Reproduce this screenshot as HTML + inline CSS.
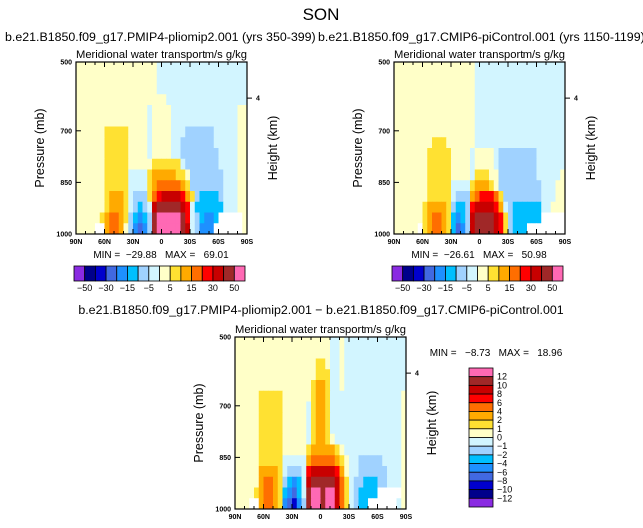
<!DOCTYPE html>
<html><head><meta charset="utf-8"><style>
html,body{margin:0;padding:0;background:#fff;}
svg{display:block;font-family:"Liberation Sans",sans-serif;}
.pre{white-space:pre;}
</style></head><body>
<svg id="fig" width="643" height="528" viewBox="0 0 643 528" xmlns="http://www.w3.org/2000/svg">
<text x="321" y="20" font-size="17" text-anchor="middle" fill="#000">SON</text>
<text x="5" y="41" font-size="12.4" fill="#000">b.e21.B1850.f09_g17.PMIP4-pliomip2.001 (yrs 350-399)</text>
<text x="318" y="41" font-size="12.4" fill="#000">b.e21.B1850.f09_g17.CMIP6-piControl.001 (yrs 1150-1199)</text>
<text x="321" y="314" font-size="12.4" text-anchor="middle" fill="#000">b.e21.B1850.f09_g17.PMIP4-pliomip2.001 − b.e21.B1850.f09_g17.CMIP6-piControl.001</text>
<g id="panels"></g>
</svg>
<script>
const colors = ["#8a2be2","#00008b","#0000cd","#4169e1","#1e90ff","#00bfff","#a0d2ff","#d2f5ff","#ffffc8","#ffe132","#ffaa00","#ff6e00","#ff0000","#c80000","#a02828","#ff69b4"];
const levelChars = "abcdefghijklmnop";
const latTicks = ["90N","60N","30N","0","30S","60S","90S"];
const presTicks = [500,700,850,1000];
const absLabels = ["-50","-30","-15","-5","5","15","30","50"];
const diffLabels = ["12","10","8","6","4","2","1","0","−1","−2","−4","−6","−8","−10","−12"];
const gridLeft = [
"iiiiii iiiiii iiiiih hhhhhh hhhhhh hhhhhh",
"iiiiii iiiiii iiiiih hhhhhh hhhhhh hhhhhh",
"iiiiii iiiiii iiiiih hhhhhh hhhhhh hhhhhh",
"iiiiii iiiiii iiiiii ihhhhh hhhhhh hhhhhh",
"iiiiii iiiiii iiihii iihhhh hhhhhh hhhhii",
"iiiiii iiiiii iiihii iihhhh hhhhhh hhhhii",
"iiiiii jjjjji iiihii iihhhg gggggh hhhhii",
"iiiiii jjjjji iiihii iihhgg gggggh hhhhii",
"iiiiii jjjjji iiihii iihhgg gggggg hhhhii",
"iiiiii jjjjji iiiijj jjjjhg gggggg hhhhii",
"iiiiii jjjjjh hhhjkk kkkjji gggggg ghhhii",
"iiiiii jjjjjh hhhjkl llllkj gggggg ghhhii",
"iiiiii jkkkjh gggjlm nnnnmk jgffff ghhhii",
"iiiiii jkkkjh gfghno oooonm hfffff fhhhii",
"iiiiij kllkjg fefgop ppppom hgfeef wwwwwi",
"iiiiww kllkig edegop ppppon hgeeew wwwwwi"];
const gridRight = [
"iiiiii iiiiii iiiiih hhhhhh hhhhhh hhhhhh",
"iiiiii iiiiii iiiiih hhhhhh hhhhhh hhhhhh",
"iiiiii iiiiii iiiiih hhhhhh hhhhhh hhhhhh",
"iiiiii iiiiii iiiiih hhhhhh hhhhhh hhhhhh",
"iiiiii iiiiii iiiiih hhhhhh hhhhhh hhhhhh",
"iiiiii iiiiii iiiiih hhhhhh hhhhhh hhhhhh",
"iiiiii iiiiii iiiiih hhhhhh hhhhhh hhhhhh",
"iiiiii iijjji iiiiih hhhhhh hhhhhh hhhhhh",
"iiiiii ijjjjj iiiihi iiihgg gggggg hhhhhh",
"iiiiii ijjjjj iiiihi iiihgg gggggg hhhhhh",
"iiiiii ijjjjj iiiihj jjiigg gggggg hhhhhi",
"iiiiii ijjjjj hhhhjk kkjigg gggggg ghhhii",
"iiiiii ijjjjj hgggkl mmmljg gggggg ghhhii",
"iiiiii jkkkkj gffgmn nnnmkh gfffff fhhiii",
"iiiiii jkllkj fefgno ooonmj gfffff fwwwww",
"iiiiiw jkllkj fdegno ooonmj gfffww wwwwww"];
const gridDiff = [
"iiiiii iiiiii iiiiii iihhih hhhhhh hhhhhh",
"iiiiii iiiiii iiiiii iihhih hhhhhh hhhhhh",
"iiiiii iiiiii iiiiij jihhih hhhhhh hhhhhh",
"iiiiii iiiiii iiiiij jjhhih hhhhhh hhhhhh",
"iiiiii iiiiii iiiijk kjhhih hhhhhh hhhhhh",
"iiiiij jjjjii iiiijk kjhhhh hhhhhh hhhhhi",
"iiiiij jjjjii iiihjk kjhhhh hhhhhh hhhhhi",
"iiiiij jjjjii iiihjk kjhhhh hhhhhh hhhhhi",
"iiiiij jjjjii iiihjk kjhhhh hhhhhh hhhhhi",
"iiiiij jjjjii iiihjk kjihhh hhhhhh hhhhhi",
"iiiiij jjjjii iiijkk kkkjih hhhhhh hhhhhi",
"iiiiij jjjjhh hhhkll lllkji hhgggg ghhhhi",
"iiiiik kkkjhg gghmnn nnnmki hhgggg gghhhi",
"iiiiik llkjgf efhnoo ooonlj hggfff gghhhi",
"iiiijk llkjfe dfhopp oppnlj hgffff wwwwwi",
"iiiwwk llkjed cegopp oppnlj hgffww wwwwhi"];

const NS="http://www.w3.org/2000/svg";
const root=document.getElementById('panels');
function mk(tag,attrs,parent){const e=document.createElementNS(NS,tag);for(const k in attrs)e.setAttribute(k,attrs[k]);(parent||root).appendChild(e);return e;}
function txt(s,attrs,parent){const e=mk('text',attrs,parent);e.textContent=s;return e;}

const PW=171, PH=172;
function xScale(x0,lat){return x0+(90-lat)/180*PW;}
function yScale(y0,p){return y0+(p-500)/500*PH;}

function panel(x0,y0,grid,id,heightTickP){
  const g=mk('g',{});
  
  
  const rows=grid.map(r=>r.replace(/ /g,''));
  const nr=rows.length, nc=36;
  rows.forEach((row,ri)=>{
    for(let ci=0;ci<nc;ci++){
      const ch=row[ci]||'h';
      const lat0=90-ci*5, lat1=90-(ci+1)*5;
      const p0=500+ri*500/nr, p1=500+(ri+1)*500/nr;
      const xa=xScale(x0,lat0), xb=xScale(x0,lat1), ya=yScale(y0,p0), yb=yScale(y0,p1);
      const idx=levelChars.indexOf(ch);
      const r=mk('rect',{x:xa.toFixed(2),y:ya.toFixed(2),width:(xb-xa+0.4).toFixed(2),height:(yb-ya+0.4).toFixed(2),fill: idx<0?'#fff':colors[idx]},g);
      
      
    }
  });
  const f=mk('rect',{x:x0,y:y0,width:PW,height:PH,fill:'none',stroke:'#000','stroke-width':1.2},g);
  
  
  for(let lat=90;lat>=-90;lat-=10){
    const x=xScale(x0,lat), major=(lat%30===0);
    const L=major?5:3;
    mk('line',{x1:x,y1:y0+PH,x2:x,y2:y0+PH-L,stroke:'#000','stroke-width':1},g);
    mk('line',{x1:x,y1:y0,x2:x,y2:y0+L,stroke:'#000','stroke-width':1},g);
  }
  latTicks.forEach((lab,i)=>{
    const lat=90-i*30;
    const t=txt(lab,{x:xScale(x0,lat),y:y0+PH+10,'font-size':7,'font-weight':'bold','text-anchor':'middle'},g);
    
    
  });
  presTicks.forEach(p=>{
    const y=yScale(y0,p);
    mk('line',{x1:x0,y1:y,x2:x0+5,y2:y,stroke:'#000'},g);
    const t=txt(String(p),{x:x0-4,y:y+2.5,'font-size':7,'font-weight':'bold','text-anchor':'end'},g);
    
    
  });
  const hy=yScale(y0,heightTickP);
  mk('line',{x1:x0+PW,y1:hy,x2:x0+PW+5,y2:hy,stroke:'#000'},g);
  txt('4',{x:x0+PW+9,y:hy+2.5,'font-size':7,'font-weight':'bold'},g);
  const yl=txt('Pressure (mb)',{x:0,y:0,'font-size':12.5,'text-anchor':'middle',transform:`translate(${x0-32},${y0+PH/2}) rotate(-90)`},g);
  
  
  const hl=txt('Height (km)',{x:0,y:0,'font-size':12.5,'text-anchor':'middle',transform:`translate(${x0+PW+30},${y0+PH/2}) rotate(-90)`},g);
  
  
  const t1=txt('Meridional water transport',{x:x0,y:y0-4,'font-size':11.2},g);
  
  
  const t2=txt('m/s g/kg',{x:x0+PW,y:y0-4,'font-size':11.2,'text-anchor':'end'},g);
  
  
}
panel(76,62,gridLeft,'pliomip',605);
panel(394,62,gridRight,'picontrol',605);
panel(235,337,gridDiff,'difference',605);

function hbar(x0,y0,w,h,name){
  const g=mk('g',{});
  
  
  const bw=w/colors.length;
  colors.forEach((c,i)=>{
    const r=mk('rect',{x:x0+i*bw,y:y0,width:bw,height:h,fill:c,stroke:'#000','stroke-width':0.8},g);
    
    
  });
  absLabels.forEach((l,i)=>{
    const t=txt(l.replace('-','−'),{x:x0+(2*i+1)*bw,y:y0+h+10,'font-size':9,'text-anchor':'middle'},g);
    
    
  });
}
hbar(74,266,171,15,'left-colorbar');
hbar(392,266,171,15,'right-colorbar');
txt('MIN =  −29.88   MAX =   69.01',{x:161,y:258,'font-size':10,'text-anchor':'middle','class':'pre'});
txt('MIN =  −26.61   MAX =   50.98',{x:479,y:258,'font-size':10,'text-anchor':'middle','class':'pre'});
txt('MIN =   −8.73   MAX =   18.96',{x:496,y:356,'font-size':10,'text-anchor':'middle','class':'pre'});

(function(){
  const g=mk('g',{});
  
  
  const x0=469,y0=368,w=24,h=139,bh=h/colors.length;
  colors.slice().reverse().forEach((c,i)=>{
    const r=mk('rect',{x:x0,y:y0+i*bh,width:w,height:bh,fill:c,stroke:'#000','stroke-width':0.8},g);
    
    
  });
  diffLabels.forEach((l,i)=>{
    const t=txt(l,{x:x0+w+4,y:y0+(i+1)*bh+3,'font-size':9},g);
    
    
  });
})();
</script>
</body></html>
